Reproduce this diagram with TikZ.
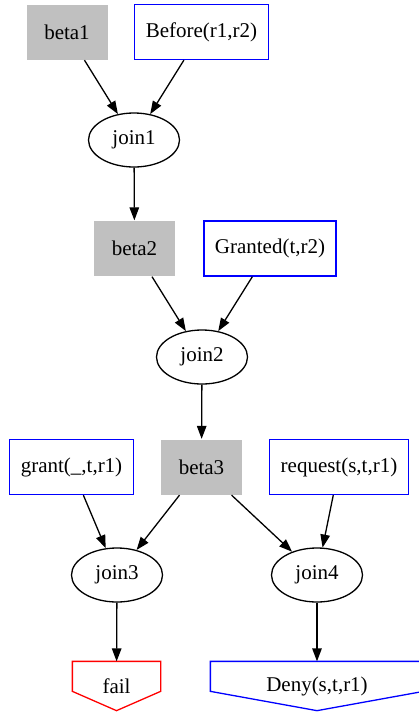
\documentclass[tikz,border=0pt]{standalone}
\usepackage{fontspec}
\setmainfont{Liberation Serif}
\usetikzlibrary{arrows.meta, shapes.geometric, positioning}
\definecolor{betagray}{RGB}{192,192,192}

\begin{document}
\begin{tikzpicture}[x=1pt, y=-1pt, >={Triangle[length=13pt,width=9.5pt]}, line width=1.3pt,
    font=\fontsize{21}{25}\selectfont,
    betanode/.style={rectangle, fill=betagray, minimum width=81pt, minimum height=55pt},
    factnode/.style={rectangle, draw=blue, minimum width=81pt, minimum height=55pt, inner xsep=11pt},
    joinnode/.style={ellipse, draw, minimum width=91pt, minimum height=54pt},
    goalnode/.style={rectangle, minimum height=48pt, inner xsep=12pt}]
        \useasboundingbox (0,0) rectangle (419,713);

        \node[betanode] (beta1) at (67,32) {beta1};
        \node[factnode] (before) at (201.5,32) {Before(r1,r2)};
        \node[joinnode] (join1) at (134,140) {join1};
        \node[betanode] (beta2) at (134.5,248.5) {beta2};
        \node[factnode] (granted) at (270,248.5) {Granted(t,r2)};
        \node[joinnode] (join2) at (202,357) {join2};
        \node[betanode] (beta3) at (201.5,467) {beta3};
        \node[factnode] (grant) at (71.5,467) {grant(\_,t,r1)};
        \node[factnode] (request) at (339,467) {request(s,t,r1)};
        \node[joinnode] (join3) at (117,575) {join3};
        \node[joinnode] (join4) at (317,575) {join4};
        \node[goalnode, minimum width=87pt] (fail) at (116.5,686) {fail};
        \node[goalnode, minimum width=212pt] (deny) at (317,686) {Deny(s,t,r1)};

        % house shapes upside down
        \draw[red] (fail.north west) -- (fail.north east) -- ([yshift=-30pt]fail.north east)
            -- (fail.south) -- ([yshift=-30pt]fail.north west) -- cycle;
        \draw[blue] (deny.north west) -- (deny.north east) -- ([yshift=-30pt]deny.north east)
            -- (deny.south) -- ([yshift=-30pt]deny.north west) -- cycle;

        \draw[->] (beta1) -- (join1);
        \draw[->] (before) -- (join1);
        \draw[->] (join1) -- (beta2);
        \draw[->] (beta2) -- (join2);
        \draw[->] (granted) -- (join2);
        \draw[->] (join2) -- (beta3);
        \draw[->] (grant) -- (join3);
        \draw[->] (beta3) -- (join3);
        \draw[->] (beta3) -- (join4);
        \draw[->] (request) -- (join4);
        \draw[->] (join3) -- (fail);
        \draw[->] (join4) -- (deny);
    \end{tikzpicture}
\end{document}
